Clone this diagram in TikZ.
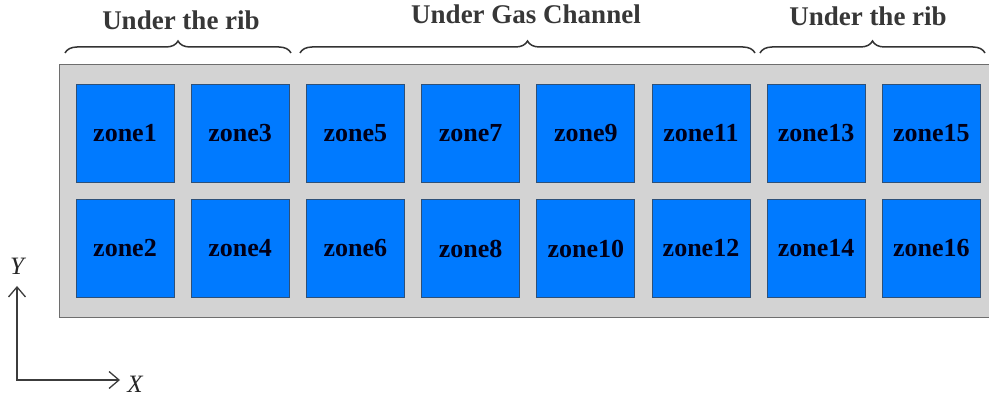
\documentclass[tikz,border=0pt]{standalone}
\usepackage{fontspec}
\setmainfont{Liberation Serif}
\usetikzlibrary{decorations.pathreplacing}
\definecolor{zoneblue}{RGB}{0,122,255}
\definecolor{zoneedge}{RGB}{45,80,120}
\definecolor{platefill}{RGB}{211,211,211}
\definecolor{plateedge}{RGB}{110,110,110}
\definecolor{headtext}{RGB}{55,55,55}
\definecolor{axisgray}{RGB}{60,60,60}
\tikzset{
  zonebox/.style={draw=zoneedge, line width=0.9pt, fill=zoneblue,
    minimum width=98pt, minimum height=98pt, inner sep=0pt,
    font=\fontsize{26}{28}\selectfont\bfseries, text=black!90!blue},
  plate/.style={draw=plateedge, line width=1pt, fill=platefill},
  header/.style={font=\fontsize{27}{30}\selectfont\bfseries, text=headtext, anchor=base},
  bracebar/.style={draw=black!80, line width=1.5pt,
    decorate, decoration={brace, amplitude=12pt}},
  axisline/.style={draw=axisgray, line width=1.3pt, line join=miter},
  axislabel/.style={font=\fontsize{25}{28}\selectfont\itshape, text=black!85}
}
\begin{document}
\begin{tikzpicture}[x=1pt,y=-1pt]
  \useasboundingbox (0,0) rectangle (989,398);
  \begin{scope}
    \clip (0,0) rectangle (989,398);
    % grey backing plate, running off the right edge
    \node[plate, minimum width=940pt, minimum height=253pt, inner sep=0pt,
          anchor=north west] (plate) at (59,64) {};
  \end{scope}

  % zone grid: odd numbers on the top row, even numbers below
  \foreach \c in {0,...,7} {
    \pgfmathtruncatemacro{\top}{2*\c+1}
    \pgfmathtruncatemacro{\bot}{2*\c+2}
    \pgfmathsetmacro{\cx}{125+115.2*\c}
    \node[zonebox] (z\top) at (\cx,133) {zone\top};
    \node[zonebox] (z\bot) at (\cx,248.5) {zone\bot};
  }

  % region braces with captions
  \coordinate (b1l) at (65,53);  \coordinate (b1r) at (291,53);
  \coordinate (b2l) at (300,53); \coordinate (b2r) at (755,53);
  \coordinate (b3l) at (760,53); \coordinate (b3r) at (985,53);
  \draw[bracebar] (b1l) -- (b1r);
  \draw[bracebar] (b2l) -- (b2r);
  \draw[bracebar] (b3l) -- (b3r);
  \node[header] (h1) at (181,30) {Under the rib};
  \node[header] (h2) at (526,24) {Under Gas Channel};
  \node[header] (h3) at (868,26) {Under the rib};

  % coordinate axes with open chevron heads
  \coordinate (o) at (17,380);
  \coordinate (ytip) at (17,287);
  \coordinate (xtip) at (119,380);
  \draw[axisline] (ytip) -- (o) -- (xtip);
  \draw[axisline] (ytip) ++(-8.5,10) -- (ytip) -- ++(8.5,10);
  \draw[axisline] (xtip) ++(-10,-8.5) -- (xtip) -- ++(-10,8.5);
  \node[axislabel] (ylab) at (17,266) {Y};
  \node[axislabel] (xlab) at (135,384) {X};
\end{tikzpicture}
\end{document}
